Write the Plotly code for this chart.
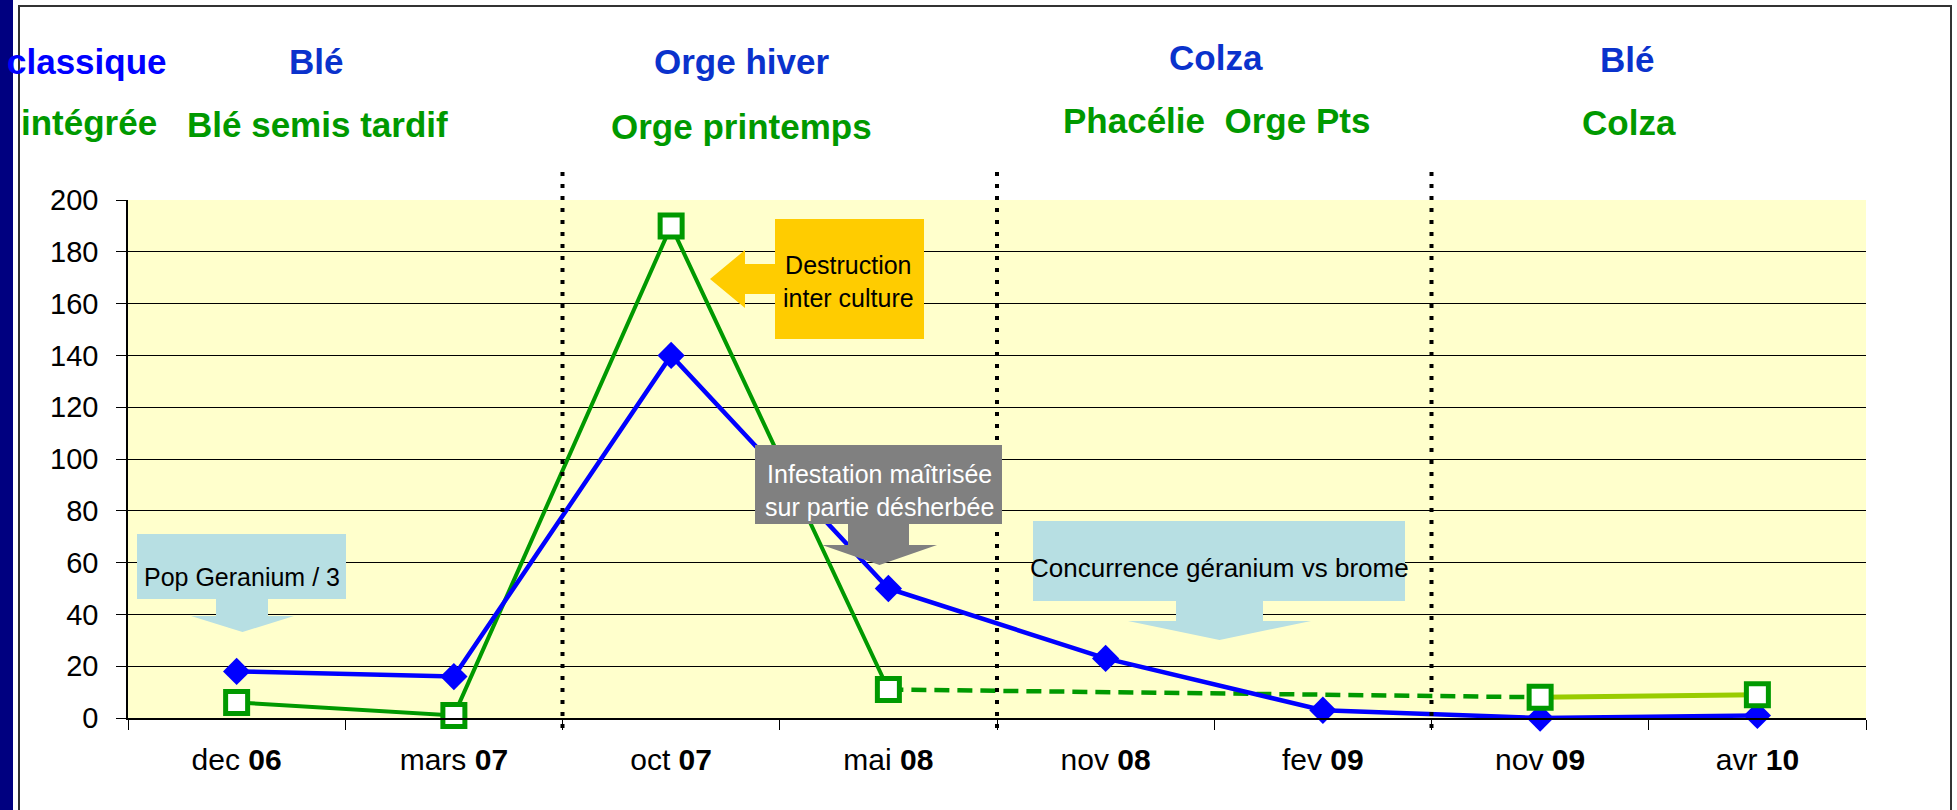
import plotly.graph_objects as go

# ---------------------------
#  Données
# ---------------------------

mois = ["dec", "mars", "oct", "mai", "nov", "fev", "nov", "avr"]
annees = ["06", "07", "07", "08", "08", "09", "09", "10"]

# densité de l'adventice, conduite classique (losanges bleus)
classique = [18, 16, 140, 50, 23, 3, 0, 1]
# conduite intégrée (carrés verts), pas de relevé nov 08 / fev 09
integree = [6, 1, 190, 11, None, None, 8, 9]

rotation_classique = ["classique", "Blé", "Orge hiver", "Colza", "Blé"]
rotation_integree = ["intégrée", "Blé semis tardif", "Orge printemps",
                     "Phacélie\u00a0\u00a0Orge Pts", "Colza"]

categories = [f"{m} {a}" for m, a in zip(mois, annees)]
ticktext = [f"{m} <b>{a}</b>" for m, a in zip(mois, annees)]

BLEU = "#0000FF"
VERT = "#009900"
VERT_CLAIR = "#99CC00"
POLICE = "Liberation Sans, Arial, sans-serif"

# zone de tracé en pixels (largeur 1957, hauteur 810)
L, R, T, B = 128, 1866, 200, 718


def fx(px):
    return (px - L) / (R - L)


def fy(py):
    return (B - py) / (B - T)


fig = go.Figure()

# -- conduite intégrée : segments
fig.add_trace(go.Scatter(
    x=categories[:4], y=integree[:4], mode="lines",
    line=dict(color=VERT, width=4), hoverinfo="skip"
))
fig.add_trace(go.Scatter(
    x=[categories[3], categories[6]], y=[integree[3], integree[6]],
    mode="lines", line=dict(color=VERT, width=4.5, dash="15px,8px"),
    hoverinfo="skip"
))
fig.add_trace(go.Scatter(
    x=categories[6:], y=integree[6:], mode="lines",
    line=dict(color=VERT_CLAIR, width=5), hoverinfo="skip"
))

# -- conduite classique
fig.add_trace(go.Scatter(
    x=categories, y=classique, mode="lines+markers", name="classique",
    line=dict(color=BLEU, width=4.5),
    marker=dict(symbol="diamond", size=21, color=BLEU),
    cliponaxis=False
))

# -- marqueurs intégrée
fig.add_trace(go.Scatter(
    x=categories, y=integree, mode="markers", name="intégrée",
    marker=dict(symbol="square", size=22, color="white",
                line=dict(color=VERT, width=5)),
    cliponaxis=False
))

shapes = []

# cadre de la diapositive
shapes.append(dict(type="rect", xref="paper", yref="paper",
                   x0=fx(0), x1=fx(13), y0=fy(830), y1=fy(-10),
                   fillcolor="#000080", line=dict(width=0), layer="below"))
shapes.append(dict(type="rect", xref="paper", yref="paper",
                   x0=fx(19), x1=fx(1951), y0=fy(830), y1=fy(6),
                   line=dict(color="#333333", width=2), layer="below"))

# séparations entre campagnes (pointillés)
for xb in [1.5, 3.5, 5.5]:
    shapes.append(dict(type="line", xref="x", yref="paper",
                       x0=xb, x1=xb, y0=fy(728), y1=fy(168),
                       line=dict(color="black", width=4, dash="4px,8px"),
                       layer="above"))


def fleche_bas(box, shaft, head, tip_y):
    # box = (x0, y0, x1, y1) ; shaft = (x0, x1) ; head = (x0, x1, y)
    bx0, by0, bx1, by1 = box
    sx0, sx1 = shaft
    hx0, hx1, hy = head
    tx = (hx0 + hx1) / 2
    pts = [(bx0, by0), (bx1, by0), (bx1, by1), (sx1, by1), (sx1, hy),
           (hx1, hy), (tx, tip_y), (hx0, hy), (sx0, hy), (sx0, by1),
           (bx0, by1)]
    return "M " + " L ".join(f"{fx(a):.5f},{fy(b):.5f}" for a, b in pts) + " Z"


def fleche_gauche(box, shaft_y, head_x, head_y, tip):
    bx0, by0, bx1, by1 = box
    sy0, sy1 = shaft_y
    hy0, hy1 = head_y
    tx, ty = tip
    pts = [(bx0, by0), (bx1, by0), (bx1, by1), (bx0, by1), (bx0, sy1),
           (head_x, sy1), (head_x, hy1), (tx, ty), (head_x, hy0),
           (head_x, sy0), (bx0, sy0)]
    return "M " + " L ".join(f"{fx(a):.5f},{fy(b):.5f}" for a, b in pts) + " Z"


shapes.append(dict(type="path", xref="paper", yref="paper",
                   path=fleche_bas((137, 534, 346, 599), (216, 268),
                                   (191, 294, 616), 632),
                   fillcolor="#B7DFE3", line=dict(width=0)))
shapes.append(dict(type="path", xref="paper", yref="paper",
                   path=fleche_bas((1033, 521, 1405, 601), (1176, 1263),
                                   (1128, 1311, 621), 640),
                   fillcolor="#B7DFE3", line=dict(width=0)))
shapes.append(dict(type="path", xref="paper", yref="paper",
                   path=fleche_bas((755, 445, 1002, 524), (848, 909),
                                   (822, 937, 545), 565),
                   fillcolor="#808080", line=dict(width=0)))
shapes.append(dict(type="path", xref="paper", yref="paper",
                   path=fleche_gauche((775, 219, 924, 339), (264, 294),
                                      745, (250, 308), (710, 279)),
                   fillcolor="#FFCC00", line=dict(width=0)))

annotations = []

# rotations en tête
x_tete = [(5, "left"), (316, "center"), (741, "center"),
          (1216, "center"), (1627, "center")]
y_haut = [61, 61, 61, 57, 59]
y_bas = [122, 125, 126, 120, 122]
for i, ((xp, anc), txt) in enumerate(zip(x_tete, rotation_classique)):
    annotations.append(dict(
        text=f"<b>{txt}</b>", xref="paper", yref="paper",
        x=fx(xp), y=fy(y_haut[i]), xanchor=anc, yanchor="middle",
        showarrow=False,
        font=dict(family=POLICE, size=35, color=BLEU if i == 0 else "#0A32CC")
    ))
x_bas = [(19, "left"), (317, "center"), (741, "center"),
         (1216, "center"), (1629, "center")]
for i, ((xp, anc), txt) in enumerate(zip(x_bas, rotation_integree)):
    annotations.append(dict(
        text=f"<b>{txt}</b>", xref="paper", yref="paper",
        x=fx(xp), y=fy(y_bas[i]), xanchor=anc, yanchor="middle",
        showarrow=False, font=dict(family=POLICE, size=35, color=VERT)
    ))

# textes des bulles
bulles = [
    ("Pop Geranium / 3", 242, 577, "black", 25),
    ("Concurrence géranium vs brome", 1219, 568, "black", 26),
    ("Destruction<br>inter culture", 848, 281, "black", 25),
    ("Infestation maîtrisée<br>sur partie désherbée", 879, 490, "white", 25),
]
for txt, xp, yp, col, taille in bulles:
    annotations.append(dict(
        text=txt, xref="paper", yref="paper", x=fx(xp), y=fy(yp),
        xanchor="center", yanchor="middle", showarrow=False,
        font=dict(family=POLICE, size=taille, color=col)
    ))

fig.update_layout(
    width=1957, height=810,
    margin=dict(l=L, r=1957 - R, t=T, b=810 - B, pad=0),
    paper_bgcolor="white",
    plot_bgcolor="#FFFFCC",
    showlegend=False,
    shapes=shapes,
    annotations=annotations,
    font=dict(family=POLICE, color="black")
)

fig.update_xaxes(
    type="category", categoryorder="array", categoryarray=categories,
    range=[-0.5, 7.5], tickvals=categories, ticktext=ticktext,
    tickson="boundaries", ticks="outside", ticklen=10, tickcolor="black",
    showline=True, linecolor="black", linewidth=1.5, showgrid=False,
    tickfont=dict(size=30), ticklabelstandoff=14
)
fig.update_yaxes(
    range=[0, 200], dtick=20, ticks="outside", ticklen=10,
    tickcolor="black", showline=True, linecolor="black", linewidth=1.5,
    gridcolor="black", gridwidth=1, zeroline=False,
    tickfont=dict(size=29), ticklabelstandoff=12
)

fig.write_html("out.html", config={"displayModeBar": False},
               post_script="document.body.style.margin='0';")
